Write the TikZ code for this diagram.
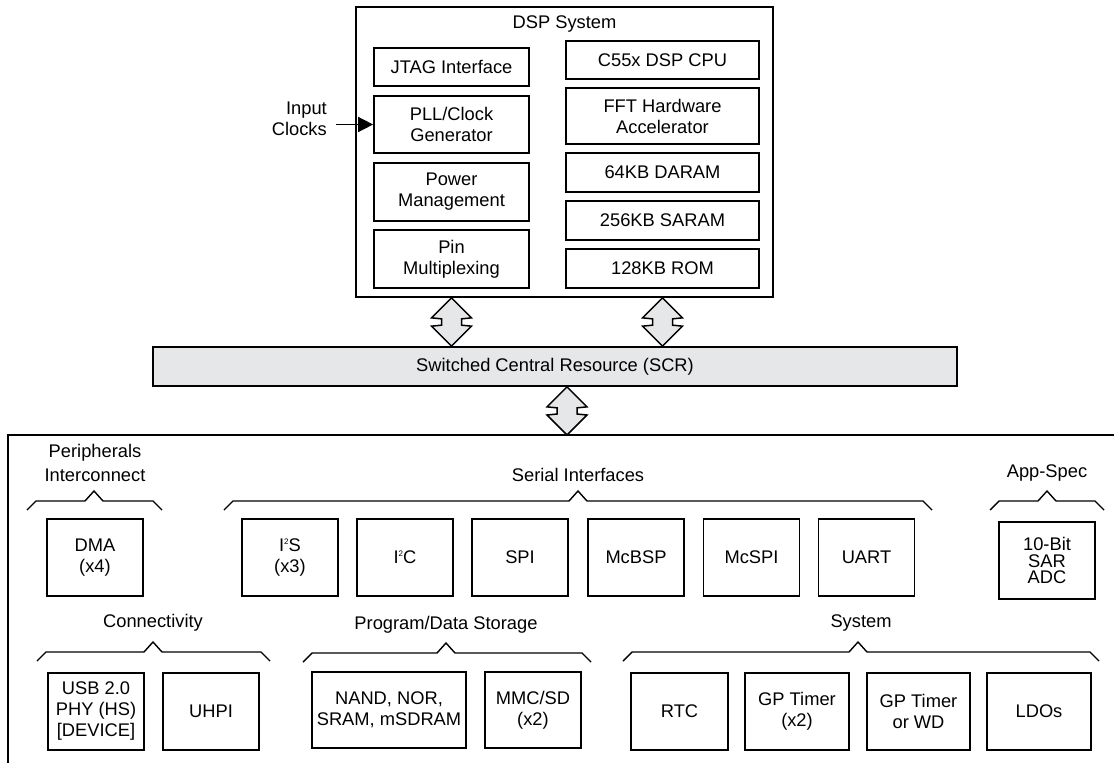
\documentclass[tikz,border=0pt]{standalone}
\usepackage{fontspec}
\setmainfont{Liberation Sans}
\usetikzlibrary{calc,arrows.meta}
\definecolor{busgray}{HTML}{E6E7E8}
\newcommand\fs{\fontsize{18.3}{21}\selectfont}
\newcommand\tightfs{\fontsize{18.3}{16.5}\selectfont}
\newcommand\supTwo{\raisebox{0.75ex}{\fontsize{8}{8}\selectfont 2}}
\tikzset{
  box/.style={draw, line width=1.7pt, align=center, inner sep=0pt, font=\fs},
  lbl/.style={align=center, inner sep=0pt, font=\fs},
  busarr/.style={draw, line width=1.5pt, fill=busgray, line join=miter},
  brk/.style={draw, line width=1.4pt},
}
\newcommand\busarrow[2]{\draw[busarr] (#1) -- ++(20,20) -- ++(-10,1) -- ($(#2)+(10,-21)$) -- ++(10,1) -- (#2) -- ++(-20,-20) -- ++(10,-1) -- ($(#1)+(-10,21)$) -- ++(-10,-1) -- cycle;}
\newcommand\bracket[4]{\draw[brk] (#1,#4) -- ++(9,-9) -- (#3-9,#4-9) -- (#3,#4-19) -- (#3+9,#4-9) -- (#2-9,#4-9) -- (#2,#4);}
\begin{document}
\begin{tikzpicture}[x=1pt,y=-1pt]
\useasboundingbox (0,0) rectangle (1114,763);

% DSP system
\node[box, minimum width=417pt, minimum height=290pt] (dsp) at (564.5,152) {};
\node[lbl] (dsptitle) at (564.5,24) {DSP System};
\node[box, minimum width=155pt, minimum height=38pt] (jtag) at (451.5,67) {JTAG Interface};
\node[box, minimum width=155pt, minimum height=57pt] (pll) at (451.5,124.5) {PLL/Clock\\Generator};
\node[box, minimum width=155pt, minimum height=58pt] (pwr) at (451.5,192) {Power\\Management};
\node[box, minimum width=155pt, minimum height=58pt] (pin) at (451.5,259) {Pin\\Multiplexing};
\node[box, minimum width=193pt, minimum height=38pt] (cpu) at (662.5,60) {C55x DSP CPU};
\node[box, minimum width=193pt, minimum height=56pt] (fft) at (662.5,116) {FFT Hardware\\Accelerator};
\node[box, minimum width=193pt, minimum height=39pt] (daram) at (662.5,172.5) {64KB DARAM};
\node[box, minimum width=193pt, minimum height=39pt] (saram) at (662.5,220.5) {256KB SARAM};
\node[box, minimum width=193pt, minimum height=39pt] (rom) at (662.5,268.5) {128KB ROM};

% input clocks
\node[lbl, align=right, anchor=east] (clk) at (327,119) {Input\\Clocks};
\coordinate (clkstart) at (336,124.5);
\draw[line width=1.5pt, -{Triangle[length=15pt,width=15pt]}] (clkstart) -- (pll.west);

% SCR
\node[box, fill=busgray, minimum width=804pt, minimum height=39pt] (scr) at (555,366.5) {Switched Central Resource (SCR)};

% bus arrows
\coordinate (a1t) at (dsp.south -| pin.south);
\coordinate (a1b) at (scr.north -| pin.south);
\coordinate (a2t) at (dsp.south -| rom.south);
\coordinate (a2b) at (scr.north -| rom.south);
\coordinate (a3t) at (scr.south -| 567,0);
\coordinate (a3b) at (567,435);
\busarrow{a1t}{a1b}
\busarrow{a2t}{a2b}
\busarrow{a3t}{a3b}

% peripheral frame (cropped at right and bottom)
\draw[line width=1.7pt] (8,790) -- (8,435) -- (1140,435);

% group labels and brackets
\node[lbl, font=\fontsize{18.3}{24}\selectfont] (lperi) at (95,463) {Peripherals\\Interconnect};
\bracket{27}{162}{94}{510}
\node[lbl] (lser) at (578,475) {Serial Interfaces};
\bracket{224}{932}{578}{510}
\node[lbl] (lapp) at (1047,473) {App-Spec};
\bracket{990}{1104}{1047}{510}
\node[lbl] (lcon) at (153,623) {Connectivity};
\bracket{37}{270}{153}{661}
\node[lbl] (lpds) at (446,625) {Program/Data Storage};
\bracket{303}{591}{446}{662}
\node[lbl] (lsys) at (861,623) {System};
\bracket{623}{1099}{858}{661}

% row 1
\node[box, minimum width=96pt, minimum height=77pt] (dma) at (95,557.5) {DMA\\(x4)};
\node[box, minimum width=96pt, minimum height=77pt] (i2s) at (290,557.5) {I\supTwo S\\(x3)};
\node[box, minimum width=96pt, minimum height=77pt] (i2c) at (405,557.5) {I\supTwo C};
\node[box, minimum width=96pt, minimum height=77pt] (spi) at (520,557.5) {SPI};
\node[box, minimum width=96pt, minimum height=77pt] (mcbsp) at (636,557.5) {McBSP};
\node[box, minimum width=96pt, minimum height=77pt] (mcspi) at (751.5,557.5) {McSPI};
\node[box, minimum width=96pt, minimum height=77pt] (uart) at (866.5,557.5) {UART};
\node[box, font=\tightfs, minimum width=96pt, minimum height=77pt] (adc) at (1047,560.5) {10-Bit\\SAR\\ADC};

% row 2
\node[box, minimum width=96pt, minimum height=77pt] (usb) at (96,711.5) {USB 2.0\\PHY (HS)\\{[DEVICE]}};
\node[box, minimum width=96pt, minimum height=77pt] (uhpi) at (211,711.5) {UHPI};
\node[box, minimum width=154pt, minimum height=76pt] (nand) at (389,710) {NAND, NOR,\\SRAM, mSDRAM};
\node[box, minimum width=96pt, minimum height=76pt] (mmc) at (533,710) {MMC/SD\\(x2)};
\node[box, minimum width=97pt, minimum height=77pt] (rtc) at (679.5,711.5) {RTC};
\node[box, minimum width=104pt, minimum height=77pt] (gpt1) at (797,711.5) {GP Timer\\(x2)};
\node[box, minimum width=103pt, minimum height=77pt] (gpt2) at (918.5,711.5) {GP Timer\\or WD};
\node[box, minimum width=104pt, minimum height=77pt] (ldo) at (1039,711.5) {LDOs};
\end{tikzpicture}
\end{document}
